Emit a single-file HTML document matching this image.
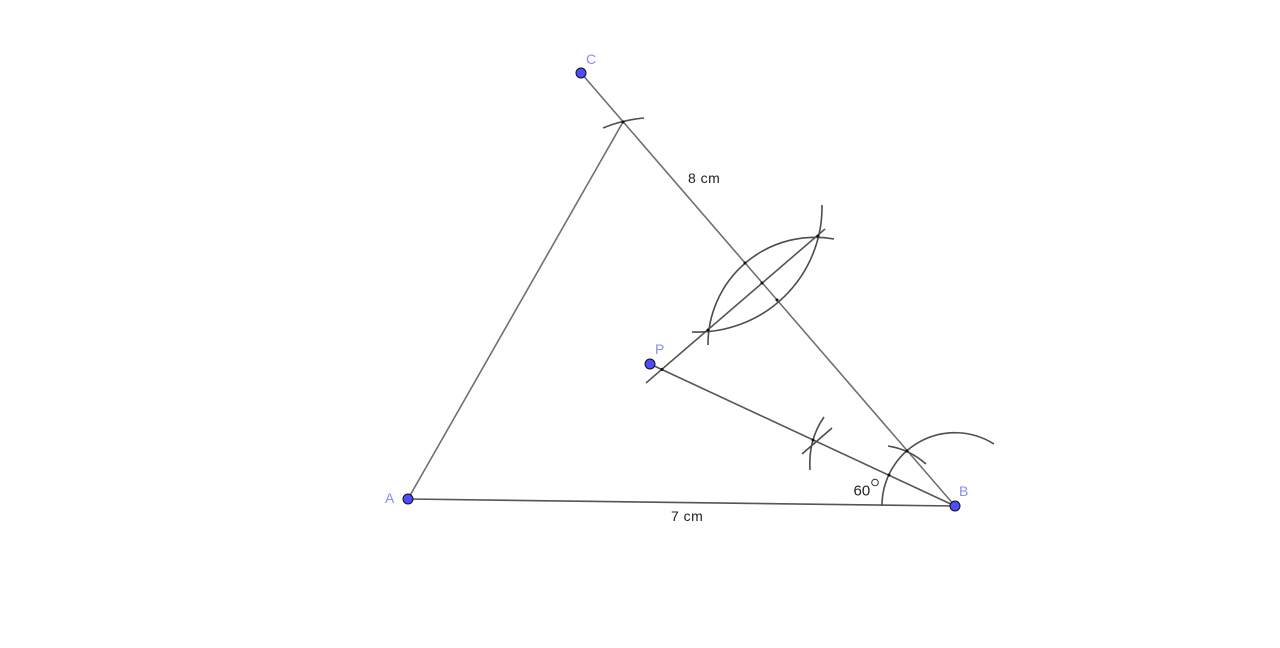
<!DOCTYPE html>
<html>
<head>
<meta charset="utf-8">
<style>
html,body{margin:0;padding:0;background:#fff;width:1280px;height:648px;overflow:hidden}
svg{display:block}
text{font-family:"Liberation Sans",sans-serif;font-size:14px}
.l{stroke:#555;stroke-width:1.6;fill:none}
.a{stroke:#4d4d4d;stroke-width:1.6;fill:none}
.pt{fill:#4d4dff;stroke:#111;stroke-width:1}
.lb{fill:#8a8aff}
</style>
</head>
<body>
<svg width="1280" height="648" viewBox="0 0 1280 648" xmlns="http://www.w3.org/2000/svg">
<line class="l" x1="408" y1="499" x2="955" y2="506"/>
<line class="l" x1="581" y1="73" x2="955" y2="506" style="stroke:#707070"/>
<line class="l" x1="408" y1="499" x2="623" y2="122" style="stroke:#707070"/>
<line class="l" x1="650" y1="364" x2="955" y2="506"/>
<line class="l" x1="646" y1="383" x2="825" y2="229"/>
<path class="a" d="M708 345 A107 107 0 0 1 834 239"/>
<path class="a" d="M692 332 A125 125 0 0 0 822 205"/>
<path class="a" d="M882 506 A73 73 0 0 1 994 444"/>
<path class="a" d="M888 446 Q909 449 926 464"/>
<path class="a" d="M824 417 Q808 440 810 470"/>
<line class="a" x1="832" y1="428" x2="802" y2="454"/>
<path class="a" d="M603 128 Q622 120 644 118"/>
<g fill="#111">
<circle cx="623" cy="122" r="1.5"/>
<circle cx="708" cy="330" r="1.5"/>
<circle cx="818" cy="236" r="1.5"/>
<circle cx="745" cy="263" r="1.5"/>
<circle cx="777" cy="300" r="1.5"/>
<circle cx="762" cy="283" r="1.5"/>
<circle cx="662" cy="369.500" r="1.5"/>
<circle cx="813" cy="440" r="1.5"/>
<circle cx="907" cy="451" r="1.5"/>
<circle cx="889" cy="475" r="1.5"/>
</g>
<circle class="pt" cx="408" cy="499" r="5"/>
<circle class="pt" cx="955" cy="506" r="5"/>
<circle class="pt" cx="581" cy="73" r="5"/>
<circle class="pt" cx="650" cy="364" r="5"/>
<text class="lb" x="385" y="503">A</text>
<text class="lb" x="959" y="496">B</text>
<text class="lb" x="586" y="64">C</text>
<text class="lb" x="655" y="354">P</text>
<text x="688" y="183" fill="#222" letter-spacing="0.500">8 cm</text>
<text x="671" y="521" fill="#222" letter-spacing="0.500">7 cm</text>
<text x="853.500" y="495.500" fill="#222" style="font-size:15px">60</text>
<circle cx="875" cy="482.500" r="3.300" fill="none" stroke="#333" stroke-width="1"/>
</svg>
</body>
</html>
